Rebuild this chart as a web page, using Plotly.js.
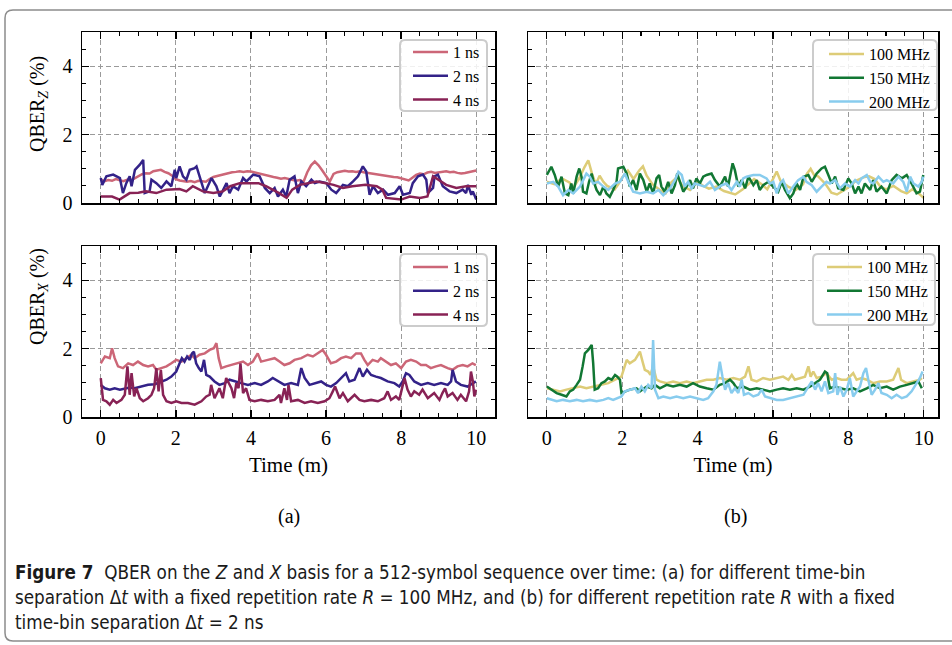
<!DOCTYPE html>
<html><head><meta charset="utf-8">
<script src="https://cdn.plot.ly/plotly-3.0.1.min.js"></script>
<style>html,body{margin:0;padding:0;background:#fff;}#chart{width:952px;height:645px;}</style>
</head><body><div id="chart"></div>
<script>
// ---------- DATA (time in minutes, QBER in %) ----------
// (a) Z basis, different time-bin separations
const z1nsT = [0,0.1,0.2,0.3,0.4,0.5,0.6,0.7,0.8,0.9,1,1.1,1.2,1.3,1.4,1.5,1.6,1.7,1.8,1.9,2,2.1,2.2,2.3,2.4,2.5,2.6,2.7,2.8,2.9,3,3.1,3.2,3.3,3.4,3.5,3.6,3.7,3.8,3.9,4,4.1,4.2,4.3,4.4,4.5,4.6,4.7,4.8,4.9,5,5.1,5.2,5.3,5.4,5.5,5.6,5.7,5.8,5.9,6,6.1,6.2,6.3,6.4,6.5,6.6,6.7,6.8,6.9,7,7.1,7.2,7.3,7.4,7.5,7.6,7.7,7.8,7.9,8,8.1,8.2,8.3,8.4,8.5,8.6,8.7,8.8,8.9,9,9.1,9.2,9.3,9.4,9.5,9.6,9.7,9.8,9.9,10];
const z1nsV = [0.68,0.64,0.67,0.65,0.70,0.66,0.64,0.68,0.66,0.72,0.78,0.84,0.87,0.86,0.93,0.95,0.97,0.91,0.87,0.80,0.70,0.66,0.64,0.62,0.64,0.61,0.65,0.63,0.62,0.70,0.76,0.79,0.82,0.86,0.88,0.90,0.91,0.93,0.91,0.93,0.92,0.89,0.86,0.84,0.81,0.79,0.76,0.74,0.71,0.73,0.70,0.68,0.65,0.67,0.62,0.90,1.10,1.21,1.10,0.95,0.78,0.63,0.85,0.90,0.92,0.94,0.92,0.93,0.91,0.93,0.90,0.88,0.86,0.85,0.83,0.82,0.79,0.78,0.76,0.75,0.72,0.70,0.66,0.74,0.82,0.86,0.84,0.89,0.91,0.88,0.90,0.92,0.93,0.90,0.91,0.88,0.86,0.88,0.90,0.93,0.95];
const z2nsT = [0,0.04,0.15,0.33,0.51,0.59,0.68,0.77,0.82,0.91,
  1.04,1.13,1.17,1.30,1.35,1.48,1.61,1.75,1.88,1.97,
  2.01,2.10,2.19,2.28,2.37,2.50,2.55,2.68,2.77,2.95,
  3.08,3.17,3.26,3.35,3.43,3.52,3.66,3.79,3.88,4.06,
  4.23,4.37,4.50,4.63,4.72,4.85,4.94,5.03,5.16,5.25,
  5.34,5.47,5.61,5.70,5.83,6.01,6.14,6.27,6.45,6.58,
  6.72,6.85,6.98,7.07,7.16,7.25,7.38,7.52,7.65,7.83,
  7.96,8.05,8.23,8.31,8.45,8.58,8.67,8.71,8.85,8.89,
  8.98,9.11,9.29,9.47,9.64,9.73,9.78,9.87,9.91,10];
const z2nsV = [0.73,0.53,0.78,0.83,0.73,0.29,0.58,0.78,0.49,0.97,
  1.12,1.26,0.29,0.34,0.68,0.58,0.44,0.63,0.49,0.97,
  0.73,1.07,0.78,0.68,0.97,1.02,1.07,0.58,0.29,0.73,
  0.49,0.19,0.39,0.58,0.29,0.49,0.39,0.73,0.63,0.83,
  0.78,0.44,0.29,0.44,0.19,0.39,0.19,0.68,0.78,0.29,
  0.63,0.49,0.68,0.58,0.63,0.58,0.39,0.29,0.53,0.49,
  0.63,0.78,1.07,0.92,0.24,0.49,0.29,0.39,0.24,0.29,
  0.49,0.24,0.29,0.58,0.78,0.83,0.68,0.29,0.44,0.78,
  0.83,0.49,0.34,0.29,0.39,0.29,0.53,0.24,0.34,0.10];
const z4nsT = [0,0.3,0.5,0.77,1.0,1.2,1.48,1.75,2.1,2.28,
  2.45,2.72,3.0,3.25,3.45,3.7,4.0,4.2,4.4,4.75,
  4.95,5.1,5.3,5.55,5.75,6.0,6.2,6.45,6.7,7.05,
  7.35,7.5,7.6,8.0,8.23,8.5,8.7,8.85,9.0,9.2,
  9.47,9.73,10];
const z4nsV = [0.19,0.19,0.10,0.29,0.30,0.34,0.29,0.39,0.41,0.34,
  0.49,0.34,0.29,0.34,0.49,0.58,0.58,0.58,0.49,0.29,
  0.15,0.39,0.53,0.58,0.63,0.58,0.53,0.44,0.49,0.53,
  0.49,0.39,0.15,0.10,0.19,0.15,0.19,0.78,0.68,0.53,
  0.44,0.49,0.49];

// (b) Z basis, different repetition rates
const z100T = [0,0.2,0.4,0.6,0.7,0.85,1.0,1.1,1.2,1.3,
  1.4,1.5,1.6,1.8,1.9,2.0,2.15,2.3,2.45,2.55,
  2.65,2.8,3.0,3.15,3.3,3.45,3.6,3.8,4.0,4.15,
  4.3,4.5,4.7,4.85,5.0,5.2,5.35,5.5,5.7,5.85,
  6.0,6.1,6.2,6.4,6.6,6.8,6.9,7.0,7.1,7.2,
  7.4,7.55,7.7,7.85,8.0,8.2,8.4,8.55,8.7,8.85,
  9.0,9.2,9.4,9.55,9.7,9.85,10];
const z100V = [0.62,0.55,0.72,0.60,0.45,0.70,1.05,1.25,0.85,0.55,
  0.80,0.62,0.50,0.40,0.55,0.75,0.95,0.70,0.95,1.07,
  0.80,0.55,0.38,0.28,0.60,0.75,0.50,0.38,0.62,0.50,
  0.42,0.48,0.35,0.30,0.25,0.40,0.55,0.70,0.55,0.40,
  0.70,0.92,0.65,0.48,0.38,0.55,0.85,1.00,0.80,0.78,
  0.55,0.30,0.25,0.35,0.45,0.65,0.75,0.78,0.70,0.48,
  0.40,0.50,0.35,0.28,0.40,0.30,0.15];
const z150T = [0.00,0.12,0.21,0.30,0.39,0.48,0.57,0.65,0.70,0.79,
  0.86,0.92,0.96,1.05,1.12,1.19,1.23,1.32,1.41,1.50,
  1.58,1.67,1.76,1.85,1.89,2.03,2.12,2.20,2.29,2.38,
  2.47,2.56,2.65,2.73,2.82,2.91,2.98,3.04,3.13,3.22,
  3.31,3.40,3.46,3.53,3.62,3.71,3.80,3.88,3.97,4.06,
  4.15,4.24,4.37,4.46,4.59,4.73,4.81,4.93,4.99,5.08,
  5.17,5.26,5.35,5.48,5.57,5.65,5.74,5.88,6.01,6.14,
  6.23,6.32,6.45,6.54,6.63,6.72,6.81,6.94,7.03,7.16,
  7.29,7.38,7.47,7.56,7.65,7.73,7.87,8.00,8.09,8.18,
  8.27,8.35,8.44,8.58,8.66,8.75,8.88,9.02,9.15,9.28,
  9.42,9.55,9.68,9.81,9.90,9.99];
const z150V = [0.82,1.06,0.82,0.48,0.77,0.28,0.23,0.57,0.28,0.77,
  1.01,0.77,0.33,0.28,0.62,0.86,0.67,0.38,0.23,0.48,
  0.28,0.18,0.38,0.62,1.01,1.06,0.86,0.48,0.67,0.38,
  0.86,0.67,0.33,0.57,0.28,0.72,0.82,0.48,0.33,0.62,
  0.28,0.52,0.86,0.62,0.33,0.48,0.67,0.43,0.72,0.57,
  0.77,0.82,0.86,0.67,0.48,0.77,0.48,1.16,0.96,0.48,
  0.67,0.43,0.77,0.52,0.67,0.38,0.52,0.62,0.48,0.33,
  0.62,0.38,0.14,0.28,0.57,0.38,0.77,0.82,0.62,0.86,
  1.01,1.06,0.82,0.57,0.77,0.43,0.38,0.72,0.57,0.28,
  0.48,0.28,0.57,0.38,0.67,0.33,0.48,0.28,0.67,0.82,
  0.72,0.82,0.57,0.28,0.33,0.82];
const z200T = [0.00,0.17,0.30,0.43,0.57,0.70,0.88,1.05,1.14,1.23,
  1.36,1.50,1.63,1.72,1.81,1.94,2.07,2.16,2.29,2.47,
  2.65,2.82,2.96,3.09,3.27,3.40,3.49,3.58,3.66,3.75,
  3.84,3.93,4.06,4.19,4.33,4.46,4.64,4.77,4.90,5.04,
  5.12,5.21,5.30,5.48,5.65,5.83,5.92,6.01,6.10,6.19,
  6.27,6.41,6.54,6.67,6.81,6.89,7.03,7.16,7.29,7.42,
  7.51,7.65,7.78,7.91,8.04,8.18,8.27,8.35,8.49,8.58,
  8.66,8.80,8.93,9.02,9.19,9.33,9.46,9.55,9.64,9.73,
  9.86,9.95,9.99];
const z200V = [0.57,0.62,0.48,0.23,0.38,0.28,0.48,0.86,0.77,0.57,
  0.62,0.48,0.38,0.48,0.57,0.62,0.86,0.62,0.33,0.28,
  0.33,0.28,0.38,0.23,0.43,0.67,0.91,0.82,0.48,0.62,
  0.43,0.57,0.52,0.48,0.62,0.38,0.52,0.57,0.38,0.62,
  0.48,0.72,0.77,0.82,0.82,0.72,0.57,0.62,0.28,0.57,
  0.67,0.28,0.48,0.67,0.77,0.62,0.52,0.33,0.48,0.62,
  0.57,0.67,0.43,0.57,0.48,0.67,0.57,0.72,0.82,0.62,
  0.57,0.77,0.62,0.67,0.57,0.77,0.62,0.33,0.77,0.57,
  0.48,0.62,0.77];

// (a) X basis, different time-bin separations
const x1nsT = [0,0.11,0.24,0.30,0.37,0.46,0.59,0.73,0.86,0.99,
  1.13,1.26,1.39,1.48,1.61,1.75,1.88,2.01,2.15,2.28,
  2.41,2.50,2.63,2.77,2.90,3.01,3.08,3.14,3.21,3.34,
  3.48,3.65,3.79,3.92,4.05,4.18,4.27,4.45,4.63,4.76,
  4.89,5.03,5.16,5.34,5.51,5.65,5.78,5.91,6.00,6.13,
  6.27,6.40,6.53,6.67,6.80,6.93,7.02,7.11,7.24,7.38,
  7.46,7.60,7.73,7.86,8.00,8.13,8.26,8.40,8.53,8.66,
  8.79,8.93,9.06,9.24,9.37,9.50,9.64,9.77,9.90,9.99];
const x1nsV = [1.57,1.77,1.72,2.01,1.72,1.48,1.43,1.57,1.52,1.62,
  1.52,1.48,1.52,1.38,1.43,1.48,1.57,1.67,1.62,1.72,
  1.82,1.72,1.82,1.86,1.96,2.01,2.16,1.72,1.43,1.48,
  1.52,1.57,1.62,1.52,1.62,1.86,1.62,1.67,1.72,1.62,
  1.52,1.57,1.67,1.72,1.82,1.77,1.86,1.96,1.82,1.57,
  1.62,1.72,1.77,1.72,1.86,1.86,1.67,1.52,1.67,1.62,
  1.72,1.62,1.52,1.57,1.43,1.62,1.67,1.62,1.52,1.52,
  1.43,1.48,1.52,1.43,1.38,1.48,1.52,1.48,1.57,1.52];
const x2nsT = [0,0.11,0.24,0.37,0.51,0.64,0.77,0.90,1.08,1.26,
  1.44,1.61,1.75,1.88,2.01,2.10,2.16,2.23,2.30,2.37,
  2.43,2.48,2.54,2.61,2.68,2.75,2.81,2.90,3.03,3.16,
  3.30,3.43,3.56,3.74,3.92,4.10,4.27,4.45,4.58,4.72,
  4.89,5.07,5.25,5.34,5.43,5.56,5.69,5.87,6.00,6.13,
  6.27,6.45,6.53,6.62,6.76,6.89,6.98,7.09,7.20,7.33,
  7.46,7.64,7.82,7.95,8.04,8.13,8.22,8.35,8.53,8.71,
  8.88,9.06,9.24,9.33,9.37,9.46,9.59,9.77,9.90,9.99];
const x2nsV = [0.94,0.84,0.80,0.84,0.80,0.84,0.86,0.84,0.89,0.94,
  0.96,1.04,1.09,1.18,1.33,1.57,1.72,1.62,1.77,1.67,
  1.86,1.91,1.57,1.43,1.33,1.67,1.23,1.18,1.04,0.94,
  0.99,1.09,1.04,0.99,0.94,0.99,0.94,1.04,1.14,1.04,
  0.94,0.99,0.94,1.43,1.14,0.94,0.99,1.04,0.94,0.89,
  0.99,1.18,1.28,1.04,1.09,1.43,1.18,1.38,1.23,1.18,
  1.14,1.04,0.99,0.89,1.04,1.28,1.23,1.04,0.94,0.99,
  0.94,0.99,0.94,1.04,1.38,1.04,0.94,0.89,0.99,1.04];
const x4nsT = [0,0.06,0.15,0.24,0.33,0.42,0.55,0.64,0.71,0.77,
  0.82,0.89,0.95,1.04,1.13,1.26,1.35,1.42,1.48,1.54,
  1.60,1.66,1.75,1.88,2.01,2.15,2.32,2.50,2.68,2.81,
  2.90,2.94,3.03,3.16,3.25,3.34,3.48,3.55,3.61,3.67,
  3.72,3.79,3.87,3.96,4.10,4.27,4.45,4.63,4.76,4.80,
  4.89,4.96,5.00,5.07,5.25,5.43,5.60,5.78,5.96,6.09,
  6.18,6.24,6.36,6.45,6.58,6.76,6.89,7.02,7.20,7.38,
  7.55,7.64,7.73,7.86,7.95,8.04,8.09,8.17,8.26,8.35,
  8.48,8.57,8.71,8.88,9.02,9.10,9.17,9.24,9.37,9.50,
  9.59,9.73,9.81,9.86,9.91,9.95,9.99];
const x4nsV = [1.14,0.50,0.46,0.36,0.50,0.41,0.50,0.65,1.48,0.65,
  1.28,0.60,0.84,0.55,0.46,0.55,0.65,0.84,1.43,0.75,
  1.38,0.65,0.46,0.41,0.46,0.41,0.41,0.36,0.46,0.60,
  0.65,0.94,0.55,0.84,0.55,1.14,0.84,0.55,0.99,0.84,
  1.57,0.70,0.84,0.50,0.46,0.50,0.46,0.50,0.65,0.41,
  0.84,0.50,0.94,0.46,0.50,0.41,0.46,0.41,0.46,0.55,
  0.75,0.89,0.55,0.70,0.46,0.65,0.50,0.46,0.50,0.46,
  0.55,0.75,0.50,0.60,0.50,0.94,1.14,0.80,0.60,0.75,
  0.65,0.80,0.55,0.70,0.50,0.70,0.84,0.60,0.70,0.50,
  0.65,0.46,0.75,1.33,1.04,0.60,0.80];

// (b) X basis, different repetition rates
const x100T = [0,0.17,0.35,0.52,0.70,0.88,1.05,1.27,1.45,1.63,
  1.81,1.98,2.12,2.20,2.34,2.42,2.47,2.54,2.60,2.69,
  2.75,2.82,2.91,3.00,3.18,3.35,3.53,3.71,3.88,4.06,
  4.24,4.42,4.59,4.77,4.95,5.12,5.26,5.35,5.43,5.57,
  5.74,5.92,6.10,6.27,6.41,6.50,6.58,6.72,6.85,6.94,
  7.00,7.07,7.16,7.29,7.42,7.56,7.69,7.82,7.96,8.13,
  8.22,8.35,8.49,8.66,8.84,9.02,9.19,9.33,9.40,9.55,
  9.73,9.90,9.95];
const x100V = [0.84,0.80,0.75,0.80,0.84,0.89,0.84,0.89,0.94,0.99,
  1.09,1.18,1.67,1.57,1.67,1.82,1.91,1.62,1.38,1.33,
  1.23,1.48,1.09,1.04,0.99,1.04,0.99,1.04,0.99,1.04,
  1.09,1.09,1.14,1.09,1.14,1.09,1.18,1.48,1.09,1.04,
  1.14,1.09,1.14,1.18,1.09,1.23,1.09,1.14,1.18,1.48,
  1.18,1.33,1.14,1.18,1.28,1.09,1.14,1.09,1.09,1.28,
  1.09,1.14,1.09,0.99,1.04,1.04,1.09,1.43,1.09,0.99,
  1.04,1.09,1.14];
const x150T = [0,0.12,0.26,0.39,0.52,0.61,0.70,0.79,0.88,0.95,
  1.01,1.10,1.19,1.23,1.27,1.36,1.45,1.54,1.63,1.72,
  1.81,1.87,1.94,1.98,2.07,2.20,2.38,2.47,2.65,2.78,
  2.87,3.00,3.18,3.35,3.53,3.71,3.88,4.06,4.24,4.42,
  4.59,4.73,4.86,4.95,5.04,5.21,5.39,5.57,5.74,5.92,
  6.10,6.27,6.45,6.63,6.81,6.98,7.12,7.25,7.38,7.44,
  7.51,7.65,7.78,7.96,8.13,8.31,8.49,8.66,8.84,9.02,
  9.19,9.37,9.55,9.73,9.86,9.95];
const x150V = [0.89,0.80,0.70,0.65,0.60,0.75,0.80,0.94,1.09,1.48,
  1.86,1.96,2.11,1.57,0.80,0.84,0.99,1.04,1.14,1.09,
  1.23,1.18,1.09,0.70,0.75,0.80,0.84,0.75,0.89,0.84,
  0.94,0.84,0.94,0.89,0.94,0.89,0.99,0.89,0.84,0.80,
  0.94,0.99,1.09,0.99,0.84,0.89,0.80,0.84,0.80,0.75,
  0.80,0.84,0.80,0.84,0.80,0.89,0.99,1.09,1.33,1.28,
  0.84,0.89,0.84,0.80,0.84,0.75,0.84,0.94,0.84,0.89,
  0.80,0.89,0.94,0.99,1.04,0.84];
const x200T = [0,0.12,0.26,0.43,0.61,0.79,0.96,1.14,1.32,1.50,
  1.63,1.76,1.89,1.98,2.07,2.20,2.34,2.42,2.51,2.60,
  2.69,2.78,2.82,2.87,2.96,3.09,3.27,3.44,3.62,3.80,
  3.97,4.15,4.28,4.42,4.50,4.59,4.66,4.73,4.81,4.90,
  4.99,5.08,5.17,5.23,5.35,5.48,5.61,5.70,5.79,5.92,
  6.10,6.27,6.45,6.63,6.81,6.94,7.03,7.12,7.20,7.29,
  7.38,7.47,7.60,7.65,7.71,7.78,7.87,7.96,8.04,8.13,
  8.22,8.31,8.40,8.47,8.53,8.62,8.71,8.80,8.88,9.02,
  9.15,9.28,9.42,9.55,9.68,9.81,9.90,9.97];
const x200V = [0.55,0.50,0.46,0.50,0.46,0.50,0.46,0.50,0.46,0.50,
  0.55,0.50,0.55,0.60,0.75,0.80,0.84,0.70,0.89,0.75,
  0.94,0.84,2.25,0.80,0.55,0.60,0.55,0.60,0.55,0.60,
  0.55,0.50,0.55,0.75,0.94,1.62,1.18,0.80,0.99,0.70,
  0.84,0.70,1.09,0.65,0.70,0.60,0.65,0.80,0.60,0.55,
  0.50,0.50,0.55,0.60,0.65,0.89,1.04,0.80,0.99,0.75,
  1.04,0.70,0.75,1.28,0.65,0.89,0.60,0.80,1.14,0.60,
  0.75,0.89,1.28,1.43,1.09,0.65,0.80,0.99,0.70,0.65,
  0.55,0.65,0.55,0.60,0.75,0.99,1.14,1.33];

const namesA = ['1 ns', '2 ns', '4 ns'];
const namesB = ['100 MHz', '150 MHz', '200 MHz'];
const yTicks = [0, 2, 4];
const xTicks = [0, 2, 4, 6, 8, 10];

// ---------- STYLE ----------
const W = 952, H = 645;
const SERIF = 'Liberation Serif, Times New Roman, serif';
const SANS = 'Liberation Sans Narrow, DejaVu Sans Condensed, Roboto, sans-serif';
const colA = ['#CC6677', '#332288', '#882255'];
const colB = ['#DDCC77', '#117733', '#88CCEE'];
const fx = p => p / W;
const fy = p => 1 - p / H;

function trace(t, v, name, color, ax, leg) {
  return {x: t, y: v, name: name, type: 'scatter', mode: 'lines',
    line: {color: color, width: 2.5}, xaxis: 'x' + ax, yaxis: 'y' + ax, legend: leg};
}
const data = [
  trace(z1nsT, z1nsV, namesA[0], colA[0], '', 'legend'),
  trace(z2nsT, z2nsV, namesA[1], colA[1], '', 'legend'),
  trace(z4nsT, z4nsV, namesA[2], colA[2], '', 'legend'),
  trace(z100T, z100V, namesB[0], colB[0], '2', 'legend2'),
  trace(z150T, z150V, namesB[1], colB[1], '2', 'legend2'),
  trace(z200T, z200V, namesB[2], colB[2], '2', 'legend2'),
  trace(x1nsT, x1nsV, namesA[0], colA[0], '3', 'legend3'),
  trace(x2nsT, x2nsV, namesA[1], colA[1], '3', 'legend3'),
  trace(x4nsT, x4nsV, namesA[2], colA[2], '3', 'legend3'),
  trace(x100T, x100V, namesB[0], colB[0], '4', 'legend4'),
  trace(x150T, x150V, namesB[1], colB[1], '4', 'legend4'),
  trace(x200T, x200V, namesB[2], colB[2], '4', 'legend4')
];

function baseAxis() {
  return {showline: true, linecolor: 'black', linewidth: 1.5, mirror: 'allticks',
    ticks: 'inside', ticklen: 7, tickwidth: 1.3, tickcolor: 'black',
    showgrid: true, gridcolor: '#9a9a9a', gridwidth: 1, griddash: '5px,3px',
    zeroline: false, fixedrange: true,
    tickfont: {family: SERIF, size: 20, color: 'black'},
    minor: {dtick: 0.5, tick0: 0, ticks: 'inside', ticklen: 4, tickwidth: 1.1, tickcolor: 'black', showgrid: false}};
}
function xAxis(px0, px1, range, anchor, labels, title) {
  const a = baseAxis();
  Object.assign(a, {domain: [fx(px0), fx(px1)], range: range, anchor: anchor,
    tickmode: 'array', tickvals: xTicks, ticktext: xTicks.map(String),
    showticklabels: labels, ticklabelstandoff: 2});
  if (title) a.title = {text: title, font: {family: SERIF, size: 21, color: 'black'}, standoff: 10};
  return a;
}
function yAxis(py0, py1, anchor, labels) {
  const a = baseAxis();
  Object.assign(a, {domain: [fy(py1), fy(py0)], range: [0, 5], anchor: anchor,
    tickmode: 'array', tickvals: yTicks, ticktext: yTicks.map(String),
    showticklabels: labels, ticklabelstandoff: 4});
  return a;
}
function legend(rightPx, topPx) {
  return {x: fx(rightPx), y: fy(topPx), xanchor: 'right', yanchor: 'top',
    bgcolor: 'rgba(0,0,0,0)', borderwidth: 0,
    font: {family: SERIF, size: 16, color: 'black'}, itemwidth: 35, tracegroupgap: 0};
}
// rounded legend frames (paper coordinates from pixel positions)
function roundRect(x0, y0, x1, y1, r) {
  return 'M' + fx(x0 + r) + ',' + fy(y0) + ' L' + fx(x1 - r) + ',' + fy(y0) +
    ' Q' + fx(x1) + ',' + fy(y0) + ' ' + fx(x1) + ',' + fy(y0 + r) +
    ' L' + fx(x1) + ',' + fy(y1 - r) + ' Q' + fx(x1) + ',' + fy(y1) + ' ' + fx(x1 - r) + ',' + fy(y1) +
    ' L' + fx(x0 + r) + ',' + fy(y1) + ' Q' + fx(x0) + ',' + fy(y1) + ' ' + fx(x0) + ',' + fy(y1 - r) +
    ' L' + fx(x0) + ',' + fy(y0 + r) + ' Q' + fx(x0) + ',' + fy(y0) + ' ' + fx(x0 + r) + ',' + fy(y0) + ' Z';
}
function frame(x0, y0, x1, y1) {
  return {type: 'path', path: roundRect(x0, y0, x1, y1, 5), xref: 'paper', yref: 'paper',
    fillcolor: 'rgba(255,255,255,0.85)', line: {color: '#cccccc', width: 2}, layer: 'above'};
}

const L = [82, 495], R = [528, 938], T = [32, 203], B = [246, 417];
const border = 'M' + fx(970) + ',' + fy(10) + ' L' + fx(13) + ',' + fy(10) +
  ' Q' + fx(5) + ',' + fy(10) + ' ' + fx(5) + ',' + fy(18) +
  ' L' + fx(5) + ',' + fy(633) + ' Q' + fx(5) + ',' + fy(641) + ' ' + fx(13) + ',' + fy(641) +
  ' L' + fx(970) + ',' + fy(641);

function ann(text, xp, yp, opts) {
  return Object.assign({text: text, x: fx(xp), y: fy(yp), xref: 'paper', yref: 'paper',
    xanchor: 'center', yanchor: 'middle',
    showarrow: false, font: {family: SERIF, size: 20, color: 'black'}}, opts || {});
}
const capFont = {family: SANS, size: 18.7, color: '#1a1a1a'};

const layout = {
  width: W, height: H, margin: {l: 0, r: 0, t: 0, b: 0},
  paper_bgcolor: 'white', plot_bgcolor: 'white', showlegend: true,
  xaxis: xAxis(L[0], L[1], [-0.5, 10.5], 'y', false),
  yaxis: yAxis(T[0], T[1], 'x', true),
  xaxis2: xAxis(R[0], R[1], [-0.5, 10.38], 'y2', false),
  yaxis2: yAxis(T[0], T[1], 'x2', false),
  xaxis3: xAxis(L[0], L[1], [-0.5, 10.5], 'y3', true, 'Time (m)'),
  yaxis3: yAxis(B[0], B[1], 'x3', true),
  xaxis4: xAxis(R[0], R[1], [-0.5, 10.38], 'y4', true, 'Time (m)'),
  yaxis4: yAxis(B[0], B[1], 'x4', false),
  legend: legend(485, 35),
  legend2: legend(935, 37),
  legend3: legend(485, 250),
  legend4: legend(933, 250),
  shapes: [
    {type: 'path', path: border, xref: 'paper', yref: 'paper',
      line: {color: '#8c8c8c', width: 1.5}, layer: 'below'},
    frame(400, 40, 487, 111),
    frame(813, 40, 937, 110),
    frame(400, 254, 487, 326),
    frame(813, 254, 935, 325)
  ],
  annotations: [
    ann('QBER<sub><i>Z</i></sub> (%)', 38, 104, {textangle: -90}),
    ann('QBER<sub><i>X</i></sub> (%)', 38, 297, {textangle: -90}),
    ann('(a)', 289, 516),
    ann('(b)', 735, 516),
    ann('<b>Figure 7</b>  QBER on the <i>Z</i> and <i>X</i> basis for a 512-symbol sequence over time: (a) for different time-bin',
      13, 572, {xanchor: 'left', align: 'left', font: capFont}),
    ann('separation Δ<i>t</i> with a fixed repetition rate <i>R</i> = 100 MHz, and (b) for different repetition rate <i>R</i> with a fixed',
      13, 597, {xanchor: 'left', align: 'left', font: capFont}),
    ann('time-bin separation Δ<i>t</i> = 2 ns',
      13, 622, {xanchor: 'left', align: 'left', font: capFont})
  ]
};

Plotly.newPlot('chart', data, layout, {displayModeBar: false, staticPlot: true});
</script></body></html>
